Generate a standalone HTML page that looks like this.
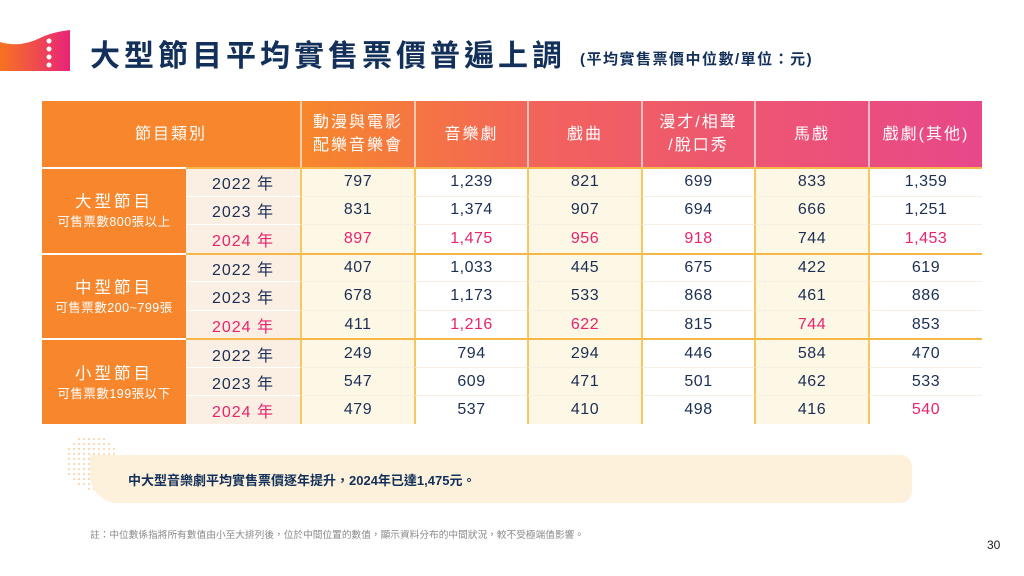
<!DOCTYPE html>
<html><head><meta charset="utf-8">
<style>
*{margin:0;padding:0;box-sizing:border-box}
body{width:1024px;height:576px;background:#fff;position:relative;overflow:hidden;font-family:"Liberation Sans","Noto Sans CJK TC",sans-serif;color:#1b2f55}
.abs{position:absolute}
#title{left:90px;top:31px;font-size:30px;font-weight:bold;color:#13305a;letter-spacing:4px;white-space:nowrap}
#subtitle{left:580px;top:48px;font-size:15px;font-weight:bold;color:#13305a;letter-spacing:1.5px;white-space:nowrap}
#tbl{left:42px;top:101px;width:940px;height:323px}
.cell{position:absolute;display:flex;align-items:center;justify-content:center;text-align:center;font-size:16px;white-space:nowrap;letter-spacing:0.5px}
.hd{color:#fff;font-size:16px;line-height:23px;letter-spacing:2px}
.pink{color:#e8246e}
#callout{left:90px;top:455px;width:822px;height:48px;background:#fdf1dc;border-radius:0 12px 12px 28px}
#callout span{position:absolute;left:38px;top:15px;font-size:13px;font-weight:bold;color:#13305a;white-space:nowrap}
#note{left:90px;top:527px;font-size:9.7px;color:#8a8a8a;white-space:nowrap}
#pg{left:987px;top:538px;font-size:12px;color:#222}
</style></head><body>
<svg class="abs" style="left:0;top:28px" width="72" height="44" viewBox="0 0 72 44">
<defs><linearGradient id="lg" x1="0" x2="1"><stop offset="0" stop-color="#f7731f"/><stop offset="1" stop-color="#e8247a"/></linearGradient></defs>
<path d="M0 14 Q20 20 40 10 Q52 4 70 2 L70 43 L0 43 Z" fill="url(#lg)"/>
<circle cx="49" cy="13" r="2.5" fill="#fff"/><circle cx="49" cy="21" r="2.5" fill="#fff"/><circle cx="49" cy="29" r="2.5" fill="#fff"/><circle cx="49" cy="37" r="2.5" fill="#fff"/>
</svg>
<div id="title" class="abs">大型節目平均實售票價普遍上調</div>
<div id="subtitle" class="abs">(平均實售票價中位數/單位：元)</div>
<div id="tbl" class="abs"></div>
<svg class="abs" style="left:62px;top:432px" width="60" height="60" id="dots"></svg>
<div id="callout" class="abs"><span>中大型音樂劇平均實售票價逐年提升，2024年已達1,475元。</span></div>
<div id="note" class="abs">註：中位數係指將所有數值由小至大排列後，位於中間位置的數值，顯示資料分布的中間狀況，較不受極端值影響。</div>
<div id="pg" class="abs">30</div>
<script>
const categories=["動漫與電影<br>配樂音樂會","音樂劇","戲曲","漫才/相聲<br>/脫口秀","馬戲","戲劇(其他)"];
const groups=["大型節目","中型節目","小型節目"];
const groupSubs=["可售票數800張以上","可售票數200~799張","可售票數199張以下"];
const years=["2022 年","2023 年","2024 年"];
const values=[
[797,1239,821,699,833,1359],[831,1374,907,694,666,1251],[897,1475,956,918,744,1453],
[407,1033,445,675,422,619],[678,1173,533,868,461,886],[411,1216,622,815,744,853],
[249,794,294,446,584,470],[547,609,471,501,462,533],[479,537,410,498,416,540]];
const highlights=[[2,0],[2,1],[2,2],[2,3],[2,5],[5,1],[5,2],[5,4],[8,5]];
const tbl=document.getElementById('tbl');
const W=940,headH=66,rowH=(323-66)/9;
const colX=[0,144,258,372,485,599,712,826,940];
function mk(x,y,w,h,html,cls,bg){const d=document.createElement('div');d.className='cell '+(cls||'');d.style.left=x+'px';d.style.top=y+'px';d.style.width=w+'px';d.style.height=h+'px';if(bg)d.style.background=bg;d.innerHTML=html;tbl.appendChild(d);return d;}
const hdrBg=document.createElement('div');hdrBg.style.cssText='position:absolute;left:0;top:0;width:940px;height:66px;background:linear-gradient(90deg,#f7862c 0%,#f7862c 28%,#f2615f 55%,#e8488a 100%)';


tbl.appendChild(hdrBg);
let h=mk(0,0,258,66,'節目類別','hd');


categories.forEach((c,i)=>{const d=mk(colX[i+2],0,colX[i+3]-colX[i+2],66,c,'hd');d.style.borderLeft='2px solid rgba(255,255,255,0.6)';

});
groups.forEach((g,gi)=>{const y=headH+gi*3*rowH;
const d=mk(0,y,144,3*rowH,'<div><div style="font-size:16.5px;letter-spacing:3px;line-height:24px">'+g+'</div><div style="font-size:12.5px;line-height:17px;letter-spacing:0.5px">'+groupSubs[gi]+'</div></div>','',"#f7862c");
d.style.color='#fff';d.style.borderTop='2px solid #fff';


for(let r=0;r<3;r++){const ri=gi*3+r,ry=y+r*rowH;
const yc=mk(144,ry,114,rowH,years[r],r==2?'pink':'','#fbeee3');yc.style.borderTop=r==0?'2px solid #f5b848':'1px solid #fff';yc.style.letterSpacing='1px';


values[ri].forEach((v,ci)=>{const hl=highlights.some(p=>p[0]==ri&&p[1]==ci);
const c=mk(colX[ci+2],ry,colX[ci+3]-colX[ci+2],rowH,v.toLocaleString('en-US'),hl?'pink':'',ci%2==0?'#fdf7e6':'#fff');
c.style.borderLeft='2px solid #f7c860';c.style.borderTop=r==0?'2px solid #f5b848':'1px solid #f6efe2';

});}});
const dots=document.getElementById('dots');let s='';
for(let i=0;i<12;i++)for(let j=0;j<12;j++){const x=i*5+2,y=j*5+2;if((x-30)**2+(y-30)**2<28*28)s+='<circle cx="'+x+'" cy="'+y+'" r="0.9" fill="#f7c08a"/>';}
dots.innerHTML=s;
</script>
</body></html>
